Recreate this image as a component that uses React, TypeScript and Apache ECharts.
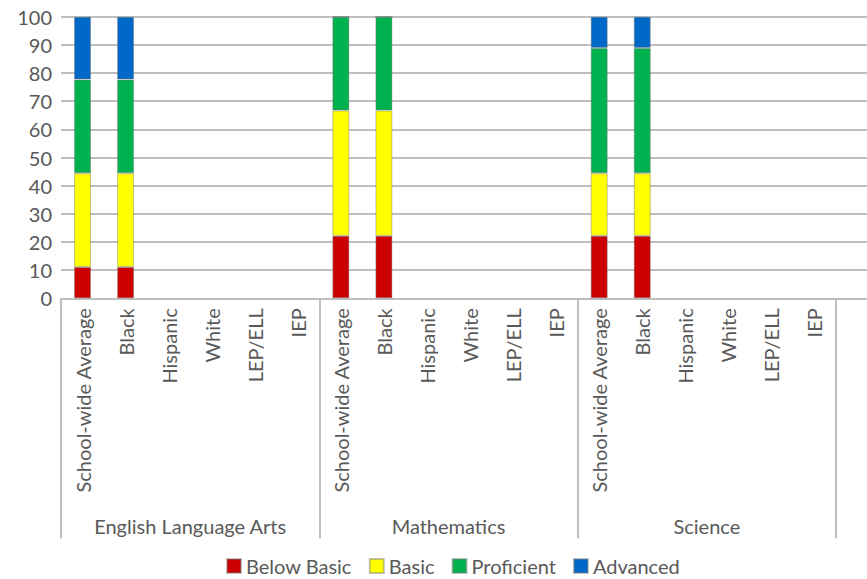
import React, { useEffect, useRef } from "react";
import * as echarts from "echarts";

// Subjects (outer axis level) and student subgroups (inner level)
const subjects = ["English Language Arts", "Mathematics", "Science"];
const subgroups = ["School-wide Average", "Black", "Hispanic", "White", "LEP/ELL", "IEP"];

// Percent of students at each performance level, one entry per subject × subgroup
const belowBasic = [11.1, 11.1, null, null, null, null, 22.2, 22.2, null, null, null, null, 22.2, 22.2, null, null, null, null];
const basic = [33.3, 33.3, null, null, null, null, 44.5, 44.5, null, null, null, null, 22.2, 22.2, null, null, null, null];
const proficient = [33.3, 33.3, null, null, null, null, 33.3, 33.3, null, null, null, null, 44.5, 44.5, null, null, null, null];
const advanced = [22.3, 22.3, null, null, null, null, 0, 0, null, null, null, null, 11.1, 11.1, null, null, null, null];

const levelNames = ["Below Basic", "Basic", "Proficient", "Advanced"];
const levelColors = ["#CC0000", "#FFFF00", "#00B14F", "#0068C6"];
const levelValues = [belowBasic, basic, proficient, advanced];

const yTicks = { min: 0, max: 100, interval: 10 };

const categories = subjects.flatMap((s) => subgroups.map((g) => `${s}|${g}`));

const TEXT = "#595959";
const GRID_LINE = "#bfbfbf";
const FONT = "Lato";
const FONT_SIZE = 20;

export default function App() {
  const ref = useRef<HTMLDivElement>(null);

  useEffect(() => {
    if (!ref.current) return;
    const chart = echarts.init(ref.current, undefined, { renderer: "svg" });

    const splitLine = { show: true, lineStyle: { color: GRID_LINE, width: 2 } };

    chart.setOption({
      animation: false,
      textStyle: { fontFamily: FONT },
      grid: [
        { left: 61, right: 31, top: 16.7, bottom: 280.7 },
        { left: 836, right: 0, top: 16.7, bottom: 280.7 },
      ],
      legend: {
        data: levelNames,
        top: 551,
        left: 221,
        itemWidth: 14,
        itemHeight: 14,
        itemGap: 17,
        icon: "rect",
        textStyle: { color: TEXT, fontSize: FONT_SIZE, fontFamily: FONT },
      },
      xAxis: [
        {
          type: "category",
          gridIndex: 0,
          data: categories,
          axisLine: { show: true, lineStyle: { color: GRID_LINE, width: 2 } },
          axisTick: { show: false },
          axisLabel: {
            rotate: 90,
            interval: 0,
            margin: 10,
            color: TEXT,
            fontSize: FONT_SIZE,
            fontFamily: FONT,
            formatter: (v: string) => v.split("|")[1],
          },
        },
        {
          type: "category",
          gridIndex: 0,
          position: "bottom",
          data: subjects,
          axisLine: { show: false },
          axisTick: { show: true, length: 240, lineStyle: { color: GRID_LINE, width: 2 } },
          axisLabel: { margin: 218, color: TEXT, fontSize: FONT_SIZE, fontFamily: FONT },
        },
        {
          type: "category",
          gridIndex: 1,
          data: [""],
          axisLine: { show: true, lineStyle: { color: GRID_LINE, width: 2 } },
          axisTick: { show: false },
          axisLabel: { show: false },
        },
      ],
      yAxis: [
        {
          type: "value",
          gridIndex: 0,
          ...yTicks,
          axisLine: { show: false },
          axisTick: { show: false },
          axisLabel: { color: TEXT, fontSize: FONT_SIZE, fontFamily: FONT, margin: 9 },
          splitLine,
        },
        {
          type: "value",
          gridIndex: 1,
          ...yTicks,
          axisLine: { show: false },
          axisTick: { show: false },
          axisLabel: { show: false },
          splitLine,
        },
      ],
      series: levelNames.map((name, i) => ({
        name,
        type: "bar",
        stack: "levels",
        xAxisIndex: 0,
        yAxisIndex: 0,
        barWidth: 17,
        data: levelValues[i],
        itemStyle: {
          color: levelColors[i],
          borderColor: "rgba(120,120,120,0.45)",
          borderWidth: 1,
        },
      })),
    });

    return () => chart.dispose();
  }, []);

  return (
    <div
      ref={ref}
      style={{ position: "fixed", left: 0, top: 0, width: 867, height: 579, background: "#fff" }}
    />
  );
}
